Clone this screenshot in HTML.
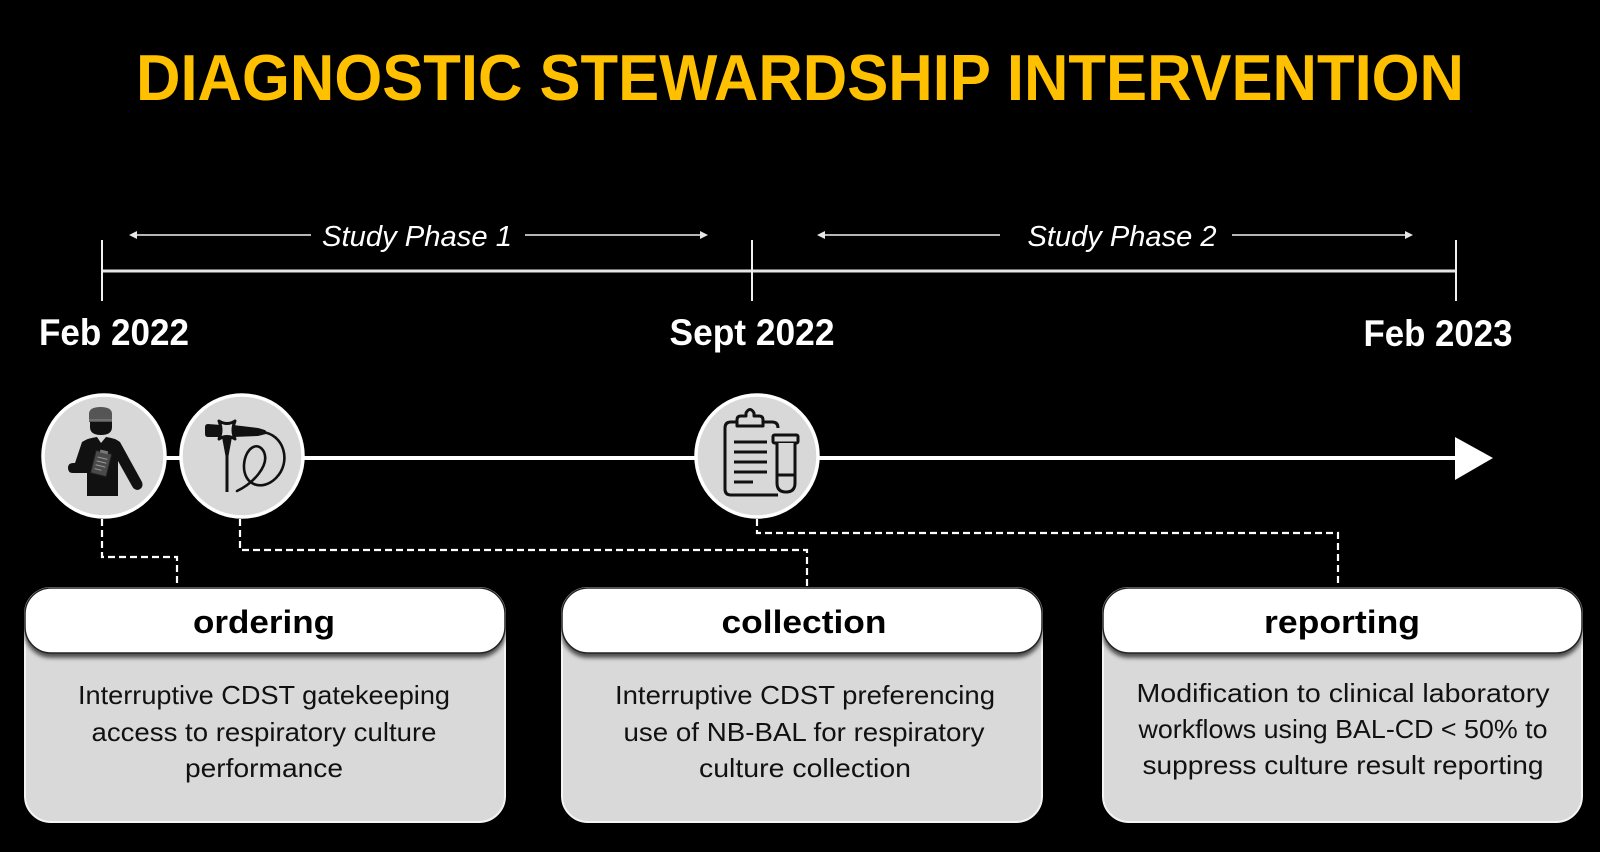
<!DOCTYPE html>
<html>
<head>
<meta charset="utf-8">
<style>
  html,body{margin:0;padding:0;background:#000;}
  body{width:1600px;height:852px;overflow:hidden;}
  svg{display:block;}
  text{font-family:"Liberation Sans", sans-serif;}
</style>
</head>
<body>
<svg width="1600" height="852" viewBox="0 0 1600 852" xmlns="http://www.w3.org/2000/svg">
  <defs>
    <filter id="hsh" x="-5%" y="-20%" width="110%" height="160%">
      <feDropShadow dx="0" dy="4" stdDeviation="2.2" flood-color="#000" flood-opacity="0.65"/>
    </filter>
  </defs>
  <rect width="1600" height="852" fill="#000"/>

  <!-- Title -->
  <text x="800" y="100" text-anchor="middle" font-size="65" font-weight="bold" fill="#FFC000" textLength="1328" lengthAdjust="spacingAndGlyphs">DIAGNOSTIC STEWARDSHIP INTERVENTION</text>

  <!-- Phase arrows -->
  <g stroke="#cfcfcf" stroke-width="1.8" fill="none">
    <line x1="134" y1="235" x2="311" y2="235"/>
    <line x1="525" y1="235" x2="704" y2="235"/>
    <line x1="822" y1="235" x2="1000" y2="235"/>
    <line x1="1232" y1="235" x2="1409" y2="235"/>
  </g>
  <g fill="#e8e8e8">
    <polygon points="129,235 137,231 137,239"/>
    <polygon points="708,235 700,231 700,239"/>
    <polygon points="817,235 825,231 825,239"/>
    <polygon points="1413,235 1405,231 1405,239"/>
  </g>
  <text x="417" y="246" text-anchor="middle" font-size="29" font-style="italic" fill="#fff" textLength="190" lengthAdjust="spacingAndGlyphs">Study Phase 1</text>
  <text x="1122" y="246" text-anchor="middle" font-size="29" font-style="italic" fill="#fff" textLength="189" lengthAdjust="spacingAndGlyphs">Study Phase 2</text>

  <!-- Timeline -->
  <line x1="102" y1="271" x2="1456" y2="271" stroke="#e6e6e6" stroke-width="3"/>
  <g stroke="#f0f0f0" stroke-width="2">
    <line x1="102" y1="240" x2="102" y2="301"/>
    <line x1="752" y1="240" x2="752" y2="301"/>
    <line x1="1456" y1="240" x2="1456" y2="301"/>
  </g>

  <!-- Dates -->
  <text x="114" y="345" text-anchor="middle" font-size="37" font-weight="bold" fill="#fff" textLength="150" lengthAdjust="spacingAndGlyphs">Feb 2022</text>
  <text x="752" y="345" text-anchor="middle" font-size="37" font-weight="bold" fill="#fff" textLength="165" lengthAdjust="spacingAndGlyphs">Sept 2022</text>
  <text x="1438" y="346" text-anchor="middle" font-size="37" font-weight="bold" fill="#fff" textLength="149" lengthAdjust="spacingAndGlyphs">Feb 2023</text>

  <!-- Main arrow line -->
  <line x1="104" y1="458" x2="1460" y2="458" stroke="#fff" stroke-width="4"/>
  <polygon points="1455,437 1493,458 1455,480" fill="#fff"/>

  <!-- Dashed connectors -->
  <g stroke="#fff" stroke-width="2.2" fill="none" stroke-dasharray="7,4">
    <path d="M102,519 V557 H177 V588"/>
    <path d="M240,519 V550 H807 V588"/>
    <path d="M757,519 V533 H1338 V588"/>
  </g>

  <!-- Circles -->
  <g fill="#d8d8d8" stroke="#fff" stroke-width="3.5">
    <circle cx="104" cy="456" r="61"/>
    <circle cx="242" cy="456" r="61"/>
    <circle cx="757" cy="456" r="61"/>
  </g>

  <!-- Icon 1: person with clipboard -->
  <g>
    <path d="M89,422 L89,414 Q89,407 100.5,407 Q112,407 112,414 L112,422 Z" fill="#555"/>
    <line x1="89" y1="420" x2="112" y2="420" stroke="#8a8a8a" stroke-width="1"/>
    <path d="M90,422 L112,422 L112,427 Q112,435 101,435 Q90,435 90,427 Z" fill="#111"/>
    <path d="M82,442 Q88,438 97,437 L101,443 L106,437 Q115,438 120,442 L142,482 Q144,488 138,490 Q134,490 132,486 L118,461 L118,496 L87,496 L87,473 L73,473 Q68,473 68,468 Q68,463 73,463 L75,463 Z" fill="#111"/>
    <g transform="rotate(14 101 464)">
      <rect x="93" y="452" width="16" height="23" fill="#4a4a4a" stroke="#222" stroke-width="1"/>
      <rect x="97" y="450" width="8" height="3" fill="#777"/>
      <line x1="96" y1="458" x2="106" y2="458" stroke="#999" stroke-width="1"/>
      <line x1="96" y1="462" x2="106" y2="462" stroke="#999" stroke-width="1"/>
      <line x1="96" y1="466" x2="106" y2="466" stroke="#999" stroke-width="1"/>
      <line x1="96" y1="470" x2="103" y2="470" stroke="#999" stroke-width="1"/>
    </g>
  </g>

  <!-- Icon 2: endoscope -->
  <g>
    <line x1="227" y1="450" x2="227" y2="492" stroke="#111" stroke-width="3"/>
    <path d="M222,437 L232,437 L228.5,456 L225.5,456 Z" fill="#111"/>
    <path d="M205,427 Q205,424 208,424 L221,425 L221,437 L208,437 Q205,437 205,434 Z" fill="#111"/>
    <path d="M233,425 L258,428 Q266,430 266,431 L266,434 L258,436 L233,437 Z" fill="#111"/>
    <path d="M219,421 Q227,426 235,421 Q231,430 235,439 Q227,434 219,439 Q223,430 219,421 Z" fill="#d8d8d8" stroke="#111" stroke-width="3" stroke-linejoin="round"/>
    <path d="M262,432 C284,434 292,462 276,478 C262,492 243,485 244,465 C245,448 258,440 264,452 C270,466 252,484 237,491" fill="none" stroke="#111" stroke-width="2.6" stroke-linecap="round"/>
  </g>

  <!-- Icon 3: clipboard + test tube -->
  <g fill="none" stroke="#111" stroke-width="3" stroke-linejoin="round">
    <path d="M778,428 Q778,422 772,422 L731,422 Q725,422 725,428 L725,489 Q725,495 731,495 L778,495"/>
    <path d="M737,426 L737,420 Q737,416 741,416 L746,416 L746,413 Q750,406 754,413 L754,416 L759,416 Q763,416 763,420 L763,426 Z" fill="#d8d8d8"/>
    <line x1="734" y1="442" x2="767" y2="442"/>
    <line x1="734" y1="452" x2="767" y2="452"/>
    <line x1="734" y1="462" x2="767" y2="462"/>
    <line x1="734" y1="472" x2="767" y2="472"/>
    <line x1="734" y1="482" x2="753" y2="482"/>
    <rect x="773" y="435" width="25" height="8" rx="1.5" fill="#d8d8d8"/>
    <path d="M777,443 L777,483 Q777,492 786,492 Q795,492 795,483 L795,443" fill="#d8d8d8"/>
    <line x1="777" y1="475" x2="795" y2="475"/>
  </g>

  <!-- Boxes -->
  <g>
    <rect x="25" y="588" width="480" height="234" rx="26" fill="#d9d9d9" stroke="#f4f4f4" stroke-width="2"/>
    <rect x="25" y="588" width="480" height="65" rx="26" fill="#fff" stroke="#222" stroke-width="1.5" filter="url(#hsh)"/>
    <text x="264" y="633" text-anchor="middle" font-size="32" font-weight="bold" fill="#000" textLength="142" lengthAdjust="spacingAndGlyphs">ordering</text>
    <g font-size="26" fill="#111" text-anchor="middle">
      <text x="264" y="704" textLength="372" lengthAdjust="spacingAndGlyphs">Interruptive CDST gatekeeping</text>
      <text x="264" y="741" textLength="345" lengthAdjust="spacingAndGlyphs">access to respiratory culture</text>
      <text x="264" y="777" textLength="158" lengthAdjust="spacingAndGlyphs">performance</text>
    </g>
  </g>
  <g>
    <rect x="562" y="588" width="480" height="234" rx="26" fill="#d9d9d9" stroke="#f4f4f4" stroke-width="2"/>
    <rect x="562" y="588" width="480" height="65" rx="26" fill="#fff" stroke="#222" stroke-width="1.5" filter="url(#hsh)"/>
    <text x="804" y="633" text-anchor="middle" font-size="32" font-weight="bold" fill="#000" textLength="165" lengthAdjust="spacingAndGlyphs">collection</text>
    <g font-size="26" fill="#111" text-anchor="middle">
      <text x="805" y="704" textLength="380" lengthAdjust="spacingAndGlyphs">Interruptive CDST preferencing</text>
      <text x="804" y="741" textLength="361" lengthAdjust="spacingAndGlyphs">use of NB-BAL for respiratory</text>
      <text x="805" y="777" textLength="212" lengthAdjust="spacingAndGlyphs">culture collection</text>
    </g>
  </g>
  <g>
    <rect x="1103" y="588" width="479" height="234" rx="26" fill="#d9d9d9" stroke="#f4f4f4" stroke-width="2"/>
    <rect x="1103" y="588" width="479" height="65" rx="26" fill="#fff" stroke="#222" stroke-width="1.5" filter="url(#hsh)"/>
    <text x="1342" y="633" text-anchor="middle" font-size="32" font-weight="bold" fill="#000" textLength="156" lengthAdjust="spacingAndGlyphs">reporting</text>
    <g font-size="26" fill="#111" text-anchor="middle">
      <text x="1343" y="702" textLength="413" lengthAdjust="spacingAndGlyphs">Modification to clinical laboratory</text>
      <text x="1343" y="738" textLength="409" lengthAdjust="spacingAndGlyphs">workflows using BAL-CD &lt; 50% to</text>
      <text x="1343" y="774" textLength="401" lengthAdjust="spacingAndGlyphs">suppress culture result reporting</text>
    </g>
  </g>
</svg>
</body>
</html>
